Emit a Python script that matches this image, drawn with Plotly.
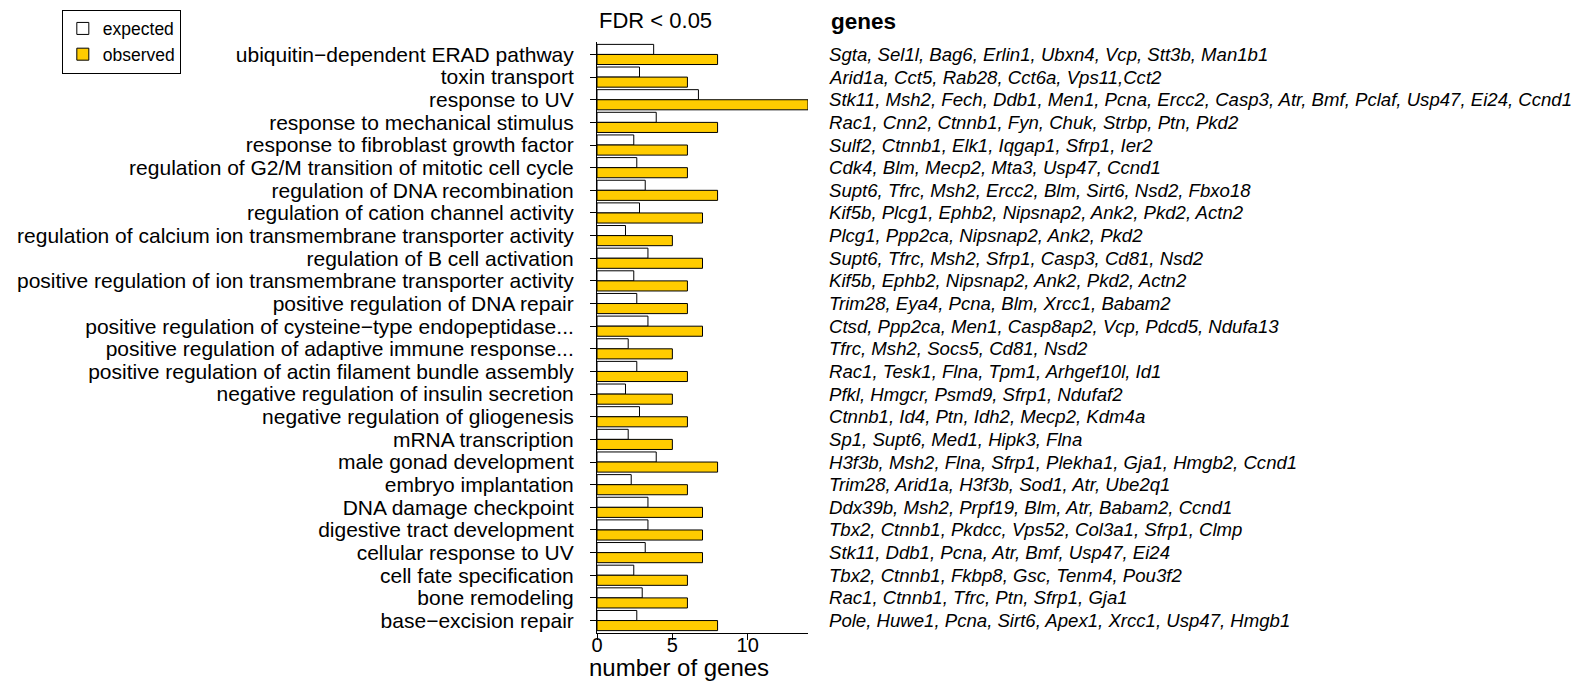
import plotly.graph_objects as go

categories = [
    "ubiquitin−dependent ERAD pathway",
    "toxin transport",
    "response to UV",
    "response to mechanical stimulus",
    "response to fibroblast growth factor",
    "regulation of G2/M transition of mitotic cell cycle",
    "regulation of DNA recombination",
    "regulation of cation channel activity",
    "regulation of calcium ion transmembrane transporter activity",
    "regulation of B cell activation",
    "positive regulation of ion transmembrane transporter activity",
    "positive regulation of DNA repair",
    "positive regulation of cysteine−type endopeptidase...",
    "positive regulation of adaptive immune response...",
    "positive regulation of actin filament bundle assembly",
    "negative regulation of insulin secretion",
    "negative regulation of gliogenesis",
    "mRNA transcription",
    "male gonad development",
    "embryo implantation",
    "DNA damage checkpoint",
    "digestive tract development",
    "cellular response to UV",
    "cell fate specification",
    "bone remodeling",
    "base−excision repair",
]

expected = [3.76, 2.82, 6.73, 3.93, 2.44, 2.64, 3.2, 2.82, 1.89, 3.38, 2.44, 2.64, 3.38,
            2.07, 2.64, 1.89, 2.82, 2.07, 3.93, 2.27, 3.38, 3.38, 3.2, 2.44, 3.0, 2.64]
observed = [8, 6, 14, 8, 6, 6, 8, 7, 5, 7, 6, 6, 7,
            5, 6, 5, 6, 5, 8, 6, 7, 7, 7, 6, 6, 8]

genes = [
    "Sgta, Sel1l, Bag6, Erlin1, Ubxn4, Vcp, Stt3b, Man1b1",
    "Arid1a, Cct5, Rab28, Cct6a, Vps11,Cct2",
    "Stk11, Msh2, Fech, Ddb1, Men1, Pcna, Ercc2, Casp3, Atr, Bmf, Pclaf, Usp47, Ei24, Ccnd1",
    "Rac1, Cnn2, Ctnnb1, Fyn, Chuk, Strbp, Ptn, Pkd2",
    "Sulf2, Ctnnb1, Elk1, Iqgap1, Sfrp1, Ier2",
    "Cdk4, Blm, Mecp2, Mta3, Usp47, Ccnd1",
    "Supt6, Tfrc, Msh2, Ercc2, Blm, Sirt6, Nsd2, Fbxo18",
    "Kif5b, Plcg1, Ephb2, Nipsnap2, Ank2, Pkd2, Actn2",
    "Plcg1, Ppp2ca, Nipsnap2, Ank2, Pkd2",
    "Supt6, Tfrc, Msh2, Sfrp1, Casp3, Cd81, Nsd2",
    "Kif5b, Ephb2, Nipsnap2, Ank2, Pkd2, Actn2",
    "Trim28, Eya4, Pcna, Blm, Xrcc1, Babam2",
    "Ctsd, Ppp2ca, Men1, Casp8ap2, Vcp, Pdcd5, Ndufa13",
    "Tfrc, Msh2, Socs5, Cd81, Nsd2",
    "Rac1, Tesk1, Flna, Tpm1, Arhgef10l, Id1",
    "Pfkl, Hmgcr, Psmd9, Sfrp1, Ndufaf2",
    "Ctnnb1, Id4, Ptn, Idh2, Mecp2, Kdm4a",
    "Sp1, Supt6, Med1, Hipk3, Flna",
    "H3f3b, Msh2, Flna, Sfrp1, Plekha1, Gja1, Hmgb2, Ccnd1",
    "Trim28, Arid1a, H3f3b, Sod1, Atr, Ube2q1",
    "Ddx39b, Msh2, Prpf19, Blm, Atr, Babam2, Ccnd1",
    "Tbx2, Ctnnb1, Pkdcc, Vps52, Col3a1, Sfrp1, Clmp",
    "Stk11, Ddb1, Pcna, Atr, Bmf, Usp47, Ei24",
    "Tbx2, Ctnnb1, Fkbp8, Gsc, Tenm4, Pou3f2",
    "Rac1, Ctnnb1, Tfrc, Ptn, Sfrp1, Gja1",
    "Pole, Huwe1, Pcna, Sirt6, Apex1, Xrcc1, Usp47, Hmgb1",
]

x_ticks = [0, 5, 10]
FONT = "Liberation Sans, Arial, sans-serif"

fig = go.Figure()
fig.add_trace(go.Bar(
    y=categories, x=expected, orientation="h", name="expected",
    marker=dict(color="white", line=dict(color="black", width=1)),
))
fig.add_trace(go.Bar(
    y=categories, x=observed, orientation="h", name="observed",
    marker=dict(color="#FFCC00", line=dict(color="black", width=1)),
))

for cat, g in zip(categories, genes):
    fig.add_annotation(
        x=1.0886, xref="paper", y=cat, yref="y", text=g, showarrow=False,
        xanchor="left", yanchor="middle",
        font=dict(family=FONT, size=18.6, color="black", style="italic"),
    )

fig.add_annotation(x=0.0, xref="paper", y=1.0372, yref="paper", text="FDR < 0.05",
                   showarrow=False, xanchor="left", yanchor="middle",
                   font=dict(family=FONT, size=22, color="black"))
fig.add_annotation(x=1.0995, xref="paper", y=1.0355, yref="paper", text="<b>genes</b>",
                   showarrow=False, xanchor="left", yanchor="middle",
                   font=dict(family=FONT, size=22.5, color="black"))
fig.add_annotation(x=0.389, xref="paper", y=-0.0585, yref="paper", text="number of genes",
                   showarrow=False, xanchor="center", yanchor="middle",
                   font=dict(family=FONT, size=24, color="black"))

fig.update_layout(
    width=1585, height=682,
    margin=dict(l=597, r=777, t=42, b=49, autoexpand=False),
    paper_bgcolor="white", plot_bgcolor="white",
    barmode="group", bargap=0.11, bargroupgap=0,
    font=dict(family=FONT, color="black"),
    showlegend=True,
    legend=dict(
        xref="container", yref="container",
        x=0.039, y=0.986, xanchor="left", yanchor="top",
        bordercolor="black", borderwidth=1, bgcolor="white",
        font=dict(family=FONT, size=17.5, color="black"),
        itemwidth=30, tracegroupgap=0,
    ),
    xaxis=dict(
        range=[0, 14], tickvals=x_ticks, ticktext=[str(v) for v in x_ticks],
        showgrid=False, zeroline=False, showline=True, linecolor="black", linewidth=1,
        ticks="outside", ticklen=6, tickcolor="black",
        tickfont=dict(family=FONT, size=20, color="black"),
        ticklabelstandoff=-12, automargin=False,
    ),
    yaxis=dict(
        categoryorder="array", categoryarray=categories,
        tickmode="array", tickvals=categories, ticktext=categories,
        range=[25.55, -0.55],
        showgrid=False, zeroline=False, showline=True, linecolor="black", linewidth=1,
        ticks="outside", ticklen=6, tickcolor="black",
        tickfont=dict(family=FONT, size=21, color="black"),
        ticklabelstandoff=12, automargin=False,
    ),
)

fig.write_html("out.html")
